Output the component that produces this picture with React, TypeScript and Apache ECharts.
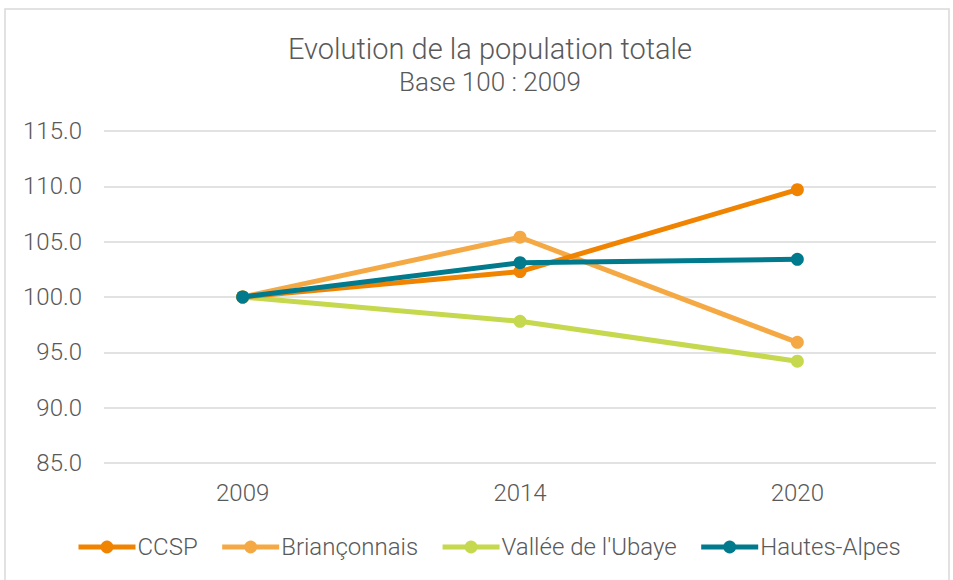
import React, { useEffect, useRef } from "react";
import * as echarts from "echarts";

const categories = ["2009", "2014", "2020"];
const ccsp = [100, 102.3, 109.7];
const brianconnais = [100, 105.4, 95.9];
const ubaye = [100, 97.8, 94.2];
const hautesAlpes = [100, 103.1, 103.4];
const seriesNames = ["CCSP", "Briançonnais", "Vallée de l'Ubaye", "Hautes-Alpes"];
const colors = ["#F08300", "#F5A944", "#C5D84E", "#007A8C"];

export default function App() {
  const ref = useRef<HTMLDivElement>(null);
  useEffect(() => {
    if (!ref.current) return;
    const chart = echarts.init(ref.current, null, { renderer: "svg" });
    const data = [ccsp, brianconnais, ubaye, hautesAlpes];
    const font = "Roboto";
    chart.setOption({
      animation: false,
      backgroundColor: "#ffffff",
      title: {
        text: "Evolution de la population totale",
        subtext: "Base 100 : 2009",
        left: 485,
        textAlign: "center",
        top: 29,
        itemGap: 6,
        textStyle: { fontFamily: font, fontWeight: 300, fontSize: 29, color: "#595959" },
        subtextStyle: { fontFamily: font, fontWeight: 300, fontSize: 26, color: "#595959" },
      },
      graphic: [
        {
          type: "rect",
          shape: { x: 5, y: 9, width: 944, height: 575 },
          style: { fill: "none", stroke: "#D9D9D9", lineWidth: 1.5 },
          silent: true,
        },
      ],
      legend: {
        bottom: 16,
        left: 71,
        itemWidth: 57,
        itemHeight: 16,
        itemGap: 22,
        lineStyle: { width: 5 },
        textStyle: { fontFamily: font, fontWeight: 300, fontSize: 24, color: "#595959", padding: [0, 0, 0, -3] },
        data: seriesNames,
      },
      grid: { left: 104, right: 17, top: 131, bottom: 117 },
      xAxis: {
        type: "category",
        data: categories,
        boundaryGap: true,
        axisLine: { show: false },
        axisTick: { show: false },
        axisLabel: { fontFamily: font, fontWeight: 300, fontSize: 24, color: "#595959", margin: 18 },
      },
      yAxis: {
        type: "value",
        min: 85,
        max: 115,
        interval: 5,
        axisLine: { show: false },
        axisTick: { show: false },
        splitLine: { lineStyle: { color: "#D9D9D9", width: 1.5 } },
        axisLabel: {
          fontFamily: font,
          fontWeight: 300,
          fontSize: 24,
          color: "#595959",
          margin: 22,
          formatter: (v: number) => v.toFixed(1),
        },
      },
      series: seriesNames.map((name, i) => ({
        name,
        type: "line",
        data: data[i],
        symbol: "circle",
        symbolSize: 13,
        itemStyle: { color: colors[i] },
        lineStyle: { color: colors[i], width: 5 },
        z: i === 3 ? 5 : 2 + (i === 0 ? 1 : 0),
      })),
    });
    return () => chart.dispose();
  }, []);
  return (
    <div
      ref={ref}
      style={{ position: "absolute", left: 0, top: 0, width: 953, height: 580 }}
    />
  );
}
